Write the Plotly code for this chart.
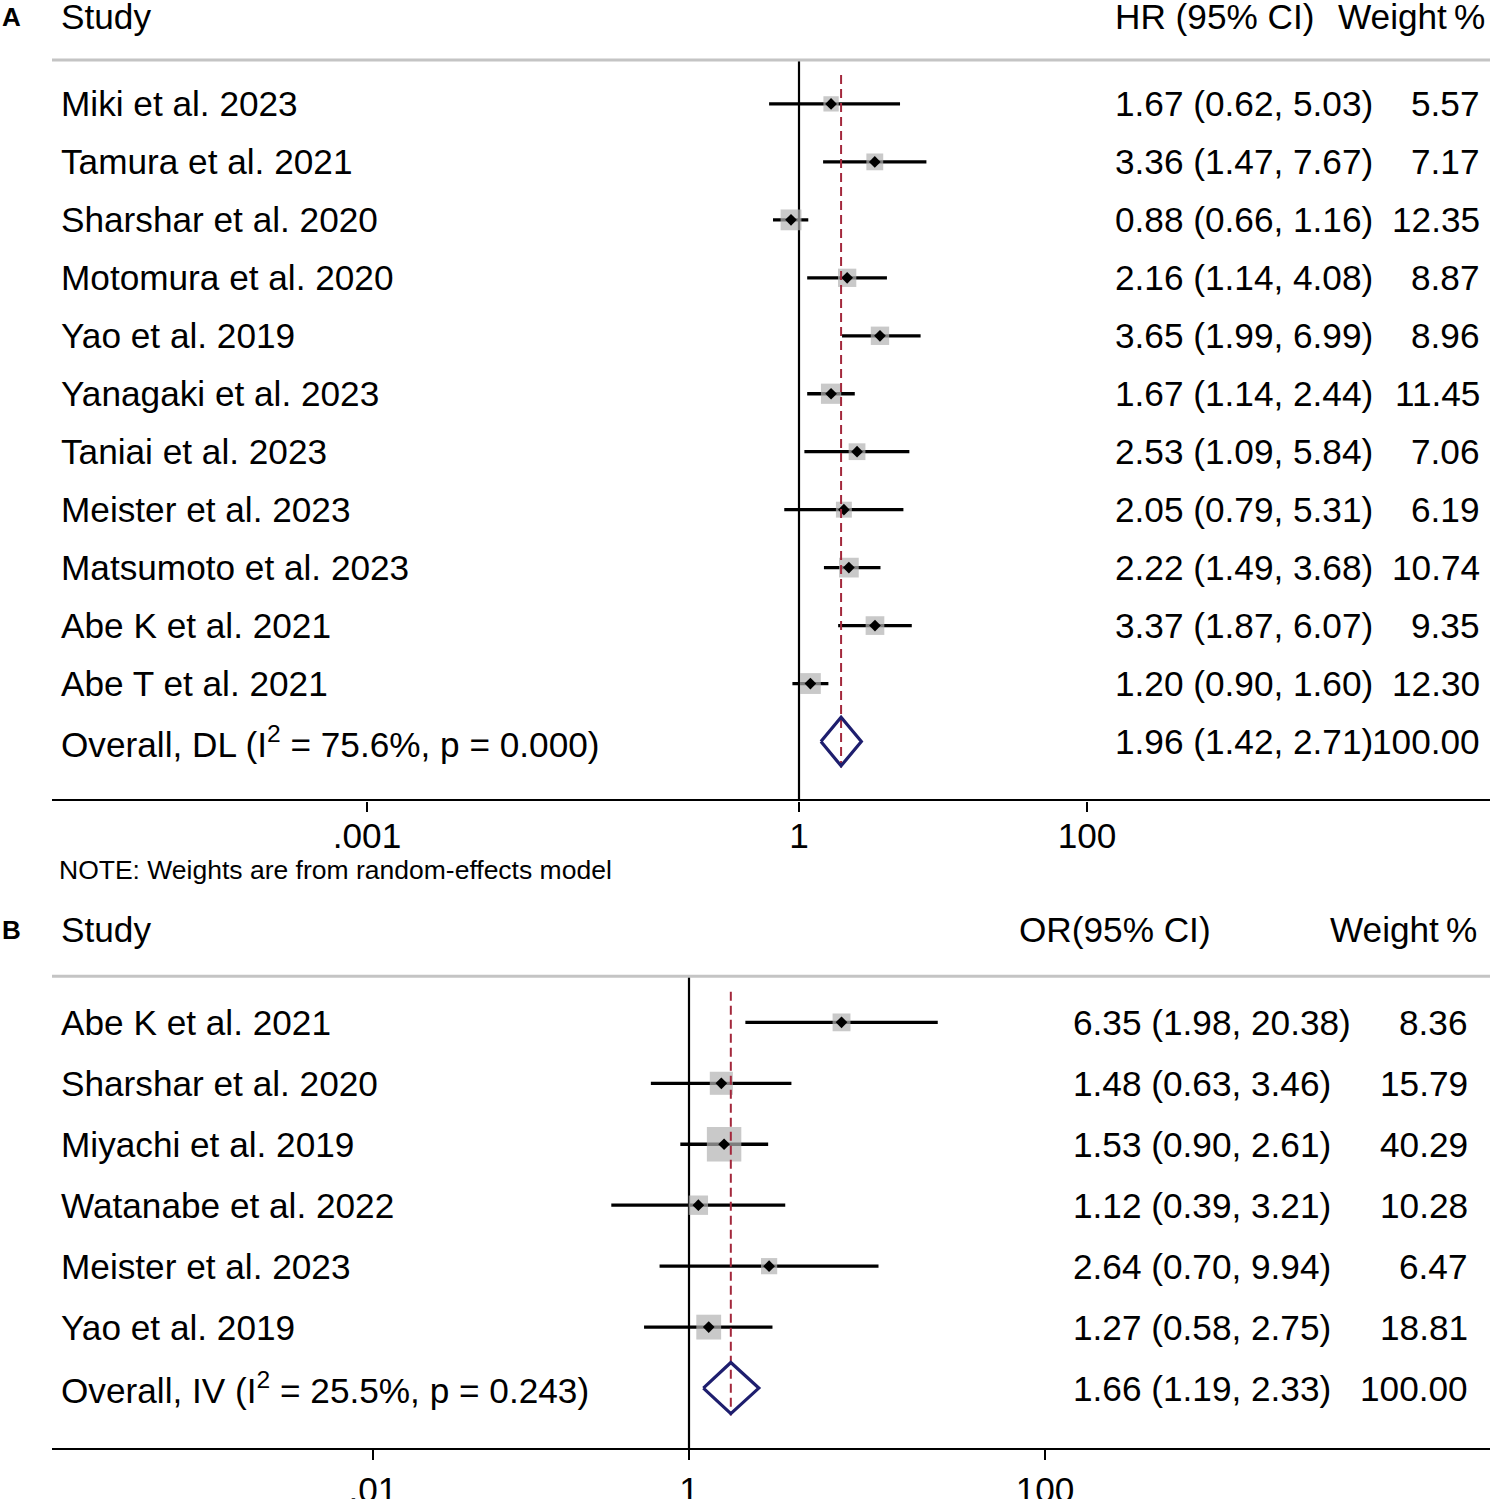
import plotly.graph_objects as go

# ---------------- Panel A data ----------------
A_STUDIES = ["Miki et al. 2023", "Tamura et al. 2021", "Sharshar et al. 2020",
             "Motomura et al. 2020", "Yao et al. 2019", "Yanagaki et al. 2023",
             "Taniai et al. 2023", "Meister et al. 2023", "Matsumoto et al. 2023",
             "Abe K et al. 2021", "Abe T et al. 2021"]
A_EST = [1.67, 3.36, 0.88, 2.16, 3.65, 1.67, 2.53, 2.05, 2.22, 3.37, 1.20]
A_LO = [0.62, 1.47, 0.66, 1.14, 1.99, 1.14, 1.09, 0.79, 1.49, 1.87, 0.90]
A_HI = [5.03, 7.67, 1.16, 4.08, 6.99, 2.44, 5.84, 5.31, 3.68, 6.07, 1.60]
A_WEIGHT = [5.57, 7.17, 12.35, 8.87, 8.96, 11.45, 7.06, 6.19, 10.74, 9.35, 12.30]
A_OVERALL_LABEL = "Overall, DL (I<sup>2</sup> = 75.6%, p = 0.000)"
A_OVERALL = [1.96, 1.42, 2.71]
A_OVERALL_WEIGHT = 100.00
A_TICK_VALS = [0.001, 1, 100]
A_TICK_TEXT = [".001", "1", "100"]

# ---------------- Panel B data ----------------
B_STUDIES = ["Abe K et al. 2021", "Sharshar et al. 2020", "Miyachi et al. 2019",
             "Watanabe et al. 2022", "Meister et al. 2023", "Yao et al. 2019"]
B_EST = [6.35, 1.48, 1.53, 1.12, 2.64, 1.27]
B_LO = [1.98, 0.63, 0.90, 0.39, 0.70, 0.58]
B_HI = [20.38, 3.46, 2.61, 3.21, 9.94, 2.75]
B_WEIGHT = [8.36, 15.79, 40.29, 10.28, 6.47, 18.81]
B_OVERALL_LABEL = "Overall, IV (I<sup>2</sup> = 25.5%, p = 0.243)"
B_OVERALL = [1.66, 1.19, 2.33]
B_OVERALL_WEIGHT = 100.00
# tick marks sit where they appear in the reference picture
B_TICK_VALS = [0.0217, 1, 74.8]
B_TICK_TEXT = [".01", "1", "100"]

# ---------------- styling ----------------
W = 1498
REF_H = 1499          # layout measured in reference pixels
FIG_H = 1509          # page height used by the capture
FONT = "Liberation Sans, Arial, sans-serif"
FS = 35.2
BLACK = "#000000"
GRAY_BOX = "#b2b2b2"
RULE_GRAY = "#c4c4c4"
RED = "#a3283c"
NAVY = "#1e1e6e"


def px_x(p):
    return p / W


def px_y(p):
    return 1 - p / REF_H


XDOM = [px_x(52), px_x(1490)]

fig = go.Figure()


def add_panel(studies, est, lo, hi, wt, ov, ov_label, ov_wt, xa, ya,
              header_ci, ci_x, wt_right, head_ci_x, head_wt_right, head_y):
    xref = "x" if xa == 1 else "x%d" % xa
    yref = "y" if ya == 1 else "y%d" % ya
    rows = list(range(len(studies)))
    ov_row = len(studies)
    # CI lines
    xs, ys = [], []
    for i in rows:
        xs += [lo[i], hi[i], None]
        ys += [i, i, None]
    fig.add_trace(go.Scatter(x=xs, y=ys, mode="lines",
                             line=dict(color=BLACK, width=3.3),
                             xaxis=xref, yaxis=yref, hoverinfo="skip",
                             showlegend=False))
    # weight boxes
    sizes = [4 + 4.8 * (w ** 0.5) for w in wt]
    fig.add_trace(go.Scatter(x=est, y=rows, mode="markers",
                             marker=dict(symbol="square", size=sizes,
                                         color=GRAY_BOX, line=dict(width=0)),
                             xaxis=xref, yaxis=yref, showlegend=False))
    # point estimates
    fig.add_trace(go.Scatter(x=est, y=rows, mode="markers",
                             marker=dict(symbol="diamond", size=9, color=BLACK,
                                         line=dict(width=0)),
                             xaxis=xref, yaxis=yref, showlegend=False))
    # dashed overall line
    fig.add_trace(go.Scatter(x=[ov[0], ov[0]], y=[-0.5, ov_row + 0.45],
                             mode="lines",
                             line=dict(color=RED, width=2, dash="9px,5px"),
                             xaxis=xref, yaxis=yref, hoverinfo="skip",
                             showlegend=False))
    # overall diamond
    hh = 0.42
    fig.add_trace(go.Scatter(x=[ov[1], ov[0], ov[2], ov[0], ov[1]],
                             y=[ov_row, ov_row - hh, ov_row, ov_row + hh, ov_row],
                             mode="lines", line=dict(color=NAVY, width=3.2),
                             xaxis=xref, yaxis=yref, hoverinfo="skip",
                             showlegend=False))
    # null line at 1
    fig.add_shape(type="line", xref=xref, yref=yref + " domain",
                  x0=1, x1=1, y0=0, y1=1, line=dict(color=BLACK, width=2.2),
                  layer="below")
    # rule at top
    fig.add_shape(type="line", xref="paper", yref=yref + " domain",
                  x0=XDOM[0], x1=XDOM[1], y0=1, y1=1,
                  line=dict(color=RULE_GRAY, width=3))
    # texts
    labels = studies + [ov_label]
    all_est = est + [ov[0]]
    all_lo = lo + [ov[1]]
    all_hi = hi + [ov[2]]
    all_wt = wt + [ov_wt]
    for i, lab in enumerate(labels):
        fig.add_annotation(xref="paper", yref=yref, x=px_x(59), y=i,
                           text=lab, showarrow=False, xanchor="left",
                           yanchor="middle",
                           font=dict(family=FONT, size=FS, color=BLACK))
        fig.add_annotation(xref="paper", yref=yref, x=px_x(ci_x), y=i,
                           text="%.2f (%.2f, %.2f)" % (all_est[i], all_lo[i], all_hi[i]),
                           showarrow=False, xanchor="left", yanchor="middle",
                           font=dict(family=FONT, size=FS, color=BLACK))
        fig.add_annotation(xref="paper", yref=yref, x=px_x(wt_right), y=i,
                           text="%.2f" % all_wt[i],
                           showarrow=False, xanchor="right", yanchor="middle",
                           font=dict(family=FONT, size=FS, color=BLACK))
    # headers
    fig.add_annotation(xref="paper", yref="paper", x=px_x(59), y=px_y(head_y),
                       text="Study", showarrow=False, xanchor="left",
                       yanchor="middle",
                       font=dict(family=FONT, size=FS, color=BLACK))
    fig.add_annotation(xref="paper", yref="paper", x=px_x(head_ci_x),
                       y=px_y(head_y), text=header_ci, showarrow=False,
                       xanchor="left", yanchor="middle",
                       font=dict(family=FONT, size=FS, color=BLACK))
    fig.add_annotation(xref="paper", yref="paper", x=px_x(head_wt_right),
                       y=px_y(head_y), text="Weight\u2009%", showarrow=False,
                       xanchor="right", yanchor="middle",
                       font=dict(family=FONT, size=FS, color=BLACK))


add_panel(A_STUDIES, A_EST, A_LO, A_HI, A_WEIGHT, A_OVERALL,
          A_OVERALL_LABEL, A_OVERALL_WEIGHT, 1, 1, "HR (95% CI)", 1113, 1482,
          1113, 1487, 17)
add_panel(B_STUDIES, B_EST, B_LO, B_HI, B_WEIGHT, B_OVERALL,
          B_OVERALL_LABEL, B_OVERALL_WEIGHT, 2, 2, "OR(95% CI)", 1071, 1470,
          1017, 1479, 930)

# panel letters and note
fig.add_annotation(xref="paper", yref="paper", x=px_x(0), y=px_y(17),
                   text="<b>A</b>", showarrow=False, xanchor="left",
                   yanchor="middle", font=dict(family=FONT, size=26, color=BLACK))
fig.add_annotation(xref="paper", yref="paper", x=px_x(0), y=px_y(931),
                   text="<b>B</b>", showarrow=False, xanchor="left",
                   yanchor="middle", font=dict(family=FONT, size=26, color=BLACK))
fig.add_annotation(xref="paper", yref="paper", x=px_x(57), y=px_y(871),
                   text="NOTE: Weights are from random-effects model",
                   showarrow=False, xanchor="left", yanchor="middle",
                   font=dict(family=FONT, size=26.5, color=BLACK))

# axes
A_PXDEC = 144.0
B_PXDEC = 190.0
a_range = [(52 - 799) / A_PXDEC, (1490 - 799) / A_PXDEC]
b_range = [(52 - 689) / B_PXDEC, (1490 - 689) / B_PXDEC]

common_x = dict(type="log", showgrid=False, zeroline=False, showline=True,
                linecolor=BLACK, linewidth=2.2, ticks="outside", ticklen=10,
                tickwidth=2, tickcolor=BLACK,
                tickfont=dict(family=FONT, size=FS, color=BLACK),
                domain=XDOM, fixedrange=True)
fig.update_layout(
    width=W, height=FIG_H,
    margin=dict(l=0, r=0, t=0, b=0),
    paper_bgcolor="white", plot_bgcolor="white",
    showlegend=False,
    xaxis=dict(common_x, range=a_range, tickvals=A_TICK_VALS,
               ticktext=A_TICK_TEXT, anchor="y", ticklabelstandoff=-6),
    yaxis=dict(domain=[px_y(800), px_y(60)],
               range=[(800 - 104) / 58, (60 - 104) / 58],
               visible=False, anchor="x", fixedrange=True),
    xaxis2=dict(common_x, range=b_range, tickvals=B_TICK_VALS,
                ticktext=B_TICK_TEXT, anchor="y2"),
    yaxis2=dict(domain=[px_y(1449), px_y(977)],
                range=[(1449 - 1023) / 61, (977 - 1023) / 61],
                visible=False, anchor="x2", fixedrange=True),
)

POST = (
    "document.body.style.margin='0px';"
    "document.documentElement.style.overflow='hidden';"
)

fig.write_html("out.html", config={"displayModeBar": False}, post_script=POST)
